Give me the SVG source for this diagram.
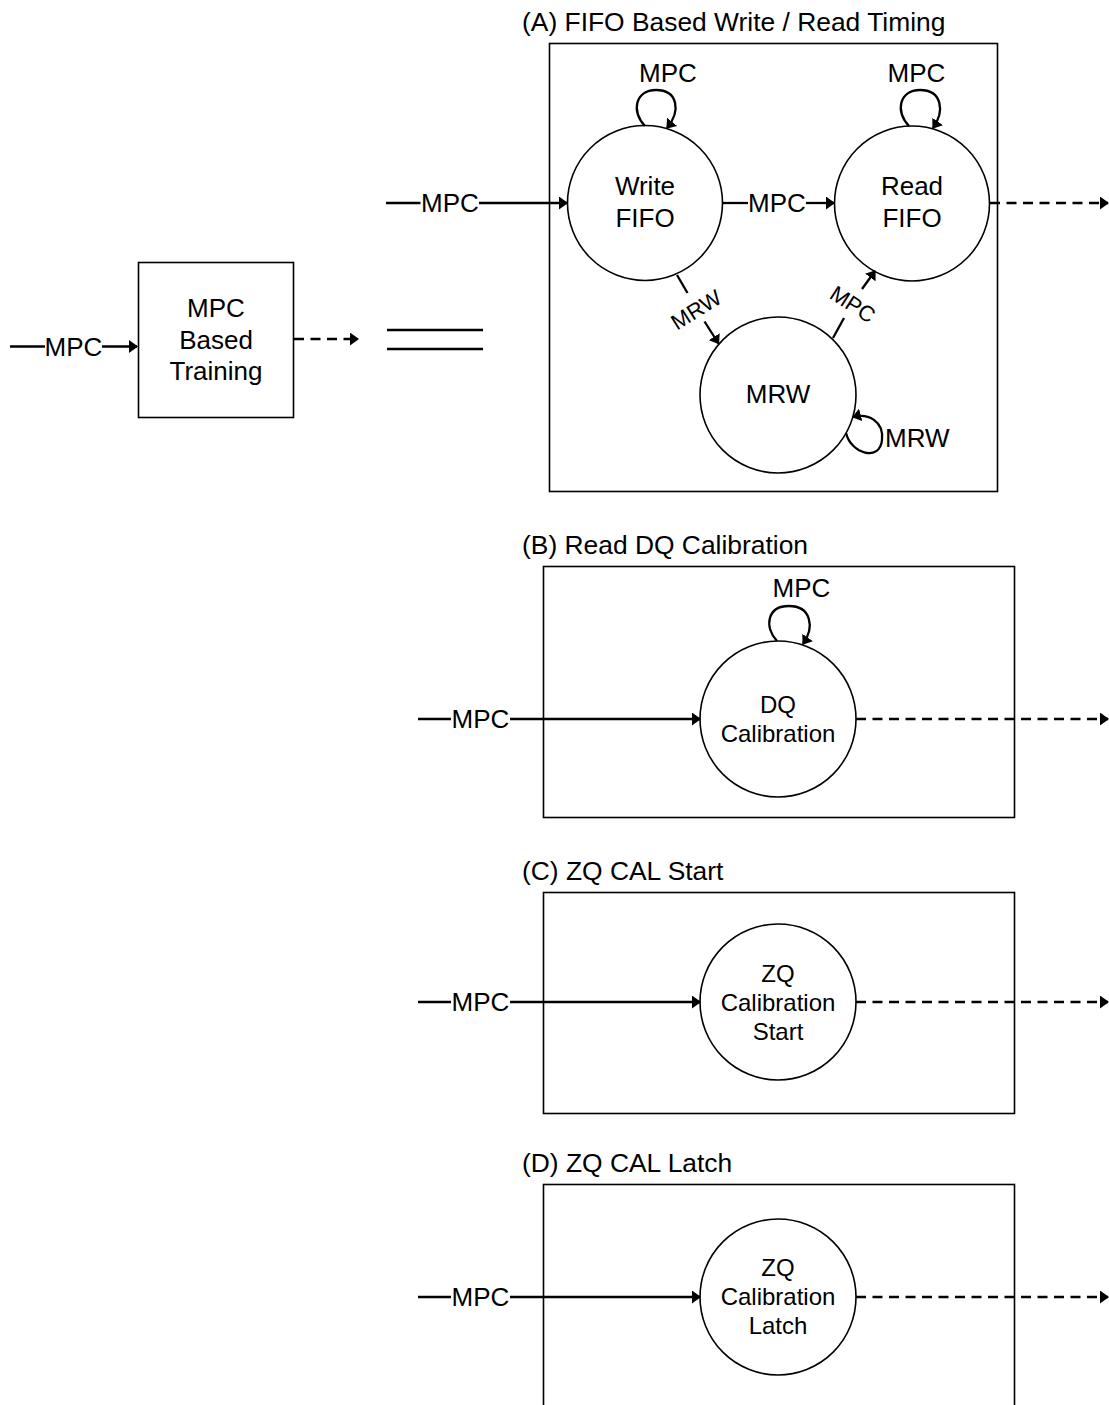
<svg xmlns="http://www.w3.org/2000/svg" width="1109" height="1405" viewBox="0 0 1109 1405">
<defs>
<marker id="ah" viewBox="0 0 9 13" refX="8" refY="6.5" markerWidth="9" markerHeight="13" markerUnits="userSpaceOnUse" orient="auto" preserveAspectRatio="none"><path d="M0,0 L9,6.5 L0,13 z" fill="#000"/></marker>
</defs>
<style>
.box{fill:#fff;stroke:#000;stroke-width:1.6}
.st{fill:#fff;stroke:#000;stroke-width:1.6}
.ln{fill:none;stroke:#000;stroke-width:2.3}
.arr{marker-end:url(#ah)}
.dash{stroke-dasharray:10 6.5}
text{font-family:"Liberation Sans",Arial,Helvetica,sans-serif;fill:#000;font-size:26px}
.c{text-anchor:middle}
.ttl{font-size:26.4px}
.sm{font-size:24px}
.rl{font-size:22px}
</style>
<rect x="0" y="0" width="1109" height="1405" fill="#fff"/>

<g id="training">
<rect class="box" x="138.5" y="262.5" width="155" height="155"/>
<text class="c" x="216" y="317">MPC</text>
<text class="c" x="216" y="349">Based</text>
<text class="c" x="216" y="380">Training</text>
</g>

<g id="equivalence">
<line x1="387" y1="330" x2="483" y2="330" stroke="#000" stroke-width="2.6"/>
<line x1="387" y1="349" x2="483" y2="349" stroke="#000" stroke-width="2.6"/>
</g>

<g id="panelA">
<rect class="box" x="549.5" y="43.5" width="448" height="448"/>
<text class="ttl" x="522" y="31">(A) FIFO Based Write / Read Timing</text>
</g>
<g id="writeFIFO">
<circle class="st" cx="645" cy="203" r="77.5"/>
<text class="c" x="645" y="195">Write</text>
<text class="c" x="645" y="227">FIFO</text>
</g>
<g id="readFIFO">
<circle class="st" cx="912" cy="203.5" r="77.5"/>
<text class="c" x="912" y="195">Read</text>
<text class="c" x="912" y="227">FIFO</text>
</g>
<g id="mrw">
<circle class="st" cx="778" cy="395" r="78"/>
<text class="c" x="778" y="403">MRW</text>
</g>

<g id="panelB">
<rect class="box" x="543.5" y="566.5" width="471" height="251"/>
<text class="ttl" x="522" y="554">(B) Read DQ Calibration</text>
</g>
<g id="dqCal">
<circle class="st" cx="778" cy="719" r="78"/>
<text class="c sm" x="778" y="713">DQ</text>
<text class="c sm" x="778" y="742">Calibration</text>
</g>

<g id="panelC">
<rect class="box" x="543.5" y="892.5" width="471" height="221"/>
<text class="ttl" x="522" y="880">(C) ZQ CAL Start</text>
</g>
<g id="zqStart">
<circle class="st" cx="778" cy="1002" r="78"/>
<text class="c sm" x="778" y="982">ZQ</text>
<text class="c sm" x="778" y="1011">Calibration</text>
<text class="c sm" x="778" y="1040">Start</text>
</g>

<g id="panelD">
<rect class="box" x="543.5" y="1184.5" width="471" height="240"/>
<text class="ttl" x="522" y="1172">(D) ZQ CAL Latch</text>
</g>
<g id="zqLatch">
<circle class="st" cx="778" cy="1297" r="78"/>
<text class="c sm" x="778" y="1276">ZQ</text>
<text class="c sm" x="778" y="1305">Calibration</text>
<text class="c sm" x="778" y="1334">Latch</text>
</g>

<g id="connectors">
<line class="ln" x1="10" y1="346.5" x2="45" y2="346.5"/>
<text class="c" x="73.5" y="356">MPC</text>
<line class="ln arr" x1="102" y1="346.5" x2="137" y2="346.5"/>
<line class="ln dash arr" x1="294" y1="339" x2="358" y2="339"/>

<line class="ln" x1="386" y1="203" x2="420.5" y2="203"/>
<text class="c" x="450" y="212">MPC</text>
<line class="ln arr" x1="479" y1="203" x2="567" y2="203"/>

<line class="ln" x1="722.5" y1="203" x2="748" y2="203"/>
<text class="c" x="777" y="212">MPC</text>
<line class="ln arr" x1="806" y1="203" x2="834" y2="203"/>

<line class="ln dash arr" x1="990" y1="203" x2="1108" y2="203"/>

<path class="ln arr" d="M645,126 C631,112 635,90 656,90 C678,90 681,111 667,128"/>
<text class="c" x="668" y="82">MPC</text>
<path class="ln arr" d="M909,126 C895,112 899,90 920,90 C942,90 945,111 933,128"/>
<text class="c" x="916.5" y="82">MPC</text>

<line class="ln" x1="677" y1="275" x2="687.5" y2="293"/>
<line class="ln arr" x1="704.5" y1="321.5" x2="718.5" y2="343.5"/>
<text class="c rl" x="696" y="317.5" transform="rotate(-32 696 309.5)">MRW</text>

<line class="ln" x1="833" y1="338" x2="844" y2="318"/>
<line class="ln arr" x1="862" y1="289" x2="875" y2="271"/>
<text class="c rl" x="853" y="312" transform="rotate(33 853 304)">MPC</text>

<path class="ln arr" d="M846,433 C851,454 880,462 882,440 C884,421 868,413 853,417"/>
<text x="885" y="447">MRW</text>

<line class="ln" x1="418" y1="719" x2="451" y2="719"/>
<text class="c" x="480.5" y="728">MPC</text>
<line class="ln arr" x1="510" y1="719" x2="700" y2="719"/>
<line class="ln dash arr" x1="856" y1="719" x2="1108" y2="719"/>
<path class="ln arr" d="M777,641 C764,627 767,606 789,606 C811,606 815,627 803,644"/>
<text class="c" x="801.5" y="597">MPC</text>

<line class="ln" x1="418" y1="1002" x2="451" y2="1002"/>
<text class="c" x="480.5" y="1011">MPC</text>
<line class="ln arr" x1="510" y1="1002" x2="700" y2="1002"/>
<line class="ln dash arr" x1="856" y1="1002" x2="1108" y2="1002"/>

<line class="ln" x1="418" y1="1297" x2="451" y2="1297"/>
<text class="c" x="480.5" y="1306">MPC</text>
<line class="ln arr" x1="510" y1="1297" x2="700" y2="1297"/>
<line class="ln dash arr" x1="856" y1="1297" x2="1108" y2="1297"/>
</g>
</svg>
